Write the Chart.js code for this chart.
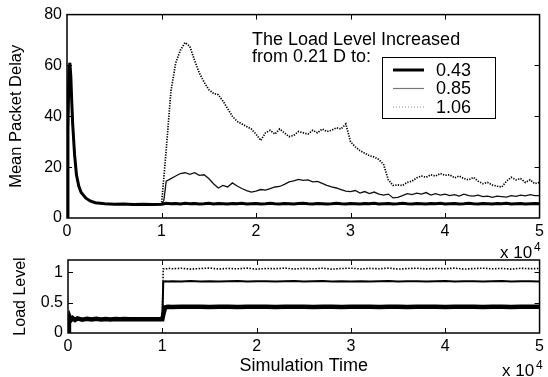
<!DOCTYPE html>
<html>
<head>
<meta charset="utf-8">
<script src="https://cdn.jsdelivr.net/npm/chart.js@4.4.0/dist/chart.umd.min.js"></script>
<style>
  html, body { margin: 0; padding: 0; background: #fff; }
  #wrap { position: relative; width: 548px; height: 377px; }
  #wrap canvas { position: absolute; left: 0; top: 0; }
</style>
</head>
<body>
<div id="wrap">
  <canvas id="delayChart" width="548" height="377"></canvas>
  <canvas id="loadChart" width="548" height="377"></canvas>
</div>
<script>
// ---- top panel: mean packet delay ----
// warm-up phase (load 0.21 D), same for all three runs
const warmupTime = [0, 100, 200, 300, 400, 500, 600, 800, 1000, 1250, 1500, 2000, 2500, 3000, 3500, 4000, 5000, 6000, 7000, 8000, 9000, 10000];
const warmupDelay = [0, 34, 58, 61, 56, 46, 37, 25, 17, 12.5, 10, 7.8, 6.6, 6.0, 5.8, 5.6, 5.4, 5.5, 5.3, 5.4, 5.3, 5.4];

// after the load step at t = 1e4
const stepTime = [
  10250,
  10500, 11000, 11500, 12000, 12500, 13000, 13500, 14000, 14500, 15000,
  15500, 16000, 16500, 17000, 17500, 18000, 18500, 19000, 19500, 20000,
  20500, 21000, 21500, 22000, 22500, 23000, 23500, 24000, 24500, 25000,
  25500, 26000, 26500, 27000, 27500, 28000, 28500, 29000, 29500, 30000,
  30500, 31000, 31500, 32000, 32500, 33000, 33500, 34000, 34500, 35000,
  35500, 36000, 36500, 37000, 37500, 38000, 38500, 39000, 39500, 40000,
  40500, 41000, 41500, 42000, 42500, 43000, 43500, 44000, 44500, 45000,
  45500, 46000, 46500, 47000, 47500, 48000, 48500, 49000, 49500, 50000
];
const delay043 = [
  5.6,
  5.8, 5.6, 5.7, 5.5, 5.8, 5.6, 5.7, 5.5, 5.6, 5.8,
  5.5, 5.7, 5.6, 5.5, 5.7, 5.6, 5.8, 5.5, 5.6, 5.7,
  5.5, 5.6, 5.8, 5.6, 5.5, 5.7, 5.6, 5.5, 5.7, 5.8,
  5.6, 5.5, 5.7, 5.6, 5.5, 5.6, 5.8, 5.6, 5.5, 5.7,
  5.6, 5.5, 5.7, 5.6, 5.8, 5.5, 5.6, 5.7, 5.5, 5.6,
  5.8, 5.6, 5.5, 5.7, 5.6, 5.5, 5.7, 5.6, 5.8, 5.5,
  5.6, 5.7, 5.5, 5.6, 5.8, 5.6, 5.5, 5.7, 5.6, 5.5,
  5.7, 5.6, 5.8, 5.5, 5.6, 5.7, 5.5, 5.6, 5.7, 5.6
];
const delay085 = [
  7,
  14.5, 15.5, 16.5, 17.5, 17.8, 17.2, 17.8, 16.8, 17, 15.5,
  13.5, 11.8, 12.8, 12.2, 13.8, 12.6, 11.6, 10.8, 10.2, 10.6,
  11.2, 11, 11.6, 12.2, 12.4, 13.2, 14.2, 14.6, 15.2, 14.8,
  15, 14.2, 14.4, 13.6, 12.8, 12.2, 11.8, 11.2, 10.6, 10.4,
  10.8, 9.8, 10.4, 9.6, 10.2, 9.4, 9, 9.4, 7.9, 8.1,
  8.8, 9.6, 9.2, 9.8, 9.4, 10, 9, 9.6, 9, 9.4,
  8.8, 9.2, 8.6, 9.4, 8.8, 8.6, 9, 8.4, 8.6, 8.1,
  8.6, 8.4, 8.2, 8.8, 8.5, 9, 8.7, 9.2, 8.8, 8.8
];
const delay106 = [
  16,
  27, 50, 61, 66, 69, 67.5, 62, 57, 53.5, 50.5,
  49, 48.5, 46, 43, 40, 38, 37, 36, 35, 33,
  30.5, 33.5, 34.5, 33, 35, 33.5, 32, 32.5, 34, 33.5,
  33, 34.5, 33.5, 35, 34, 34.5, 35.5, 35, 37, 30,
  28, 26.5, 25.5, 24.5, 24, 23, 21, 15, 12.8, 13,
  12.8, 14, 14.5, 15.8, 16.5, 16, 17, 16.5, 17.5, 16.8,
  17, 15.8, 16.5, 15.5, 15, 16, 14.5, 13.5, 14, 13,
  12.5, 12.2, 14.5, 16, 15, 15.5, 14, 15, 13.5, 14
];

// ---- bottom panel: load level ----
const loadWarmTime = [0, 100, 200, 300, 500, 750, 1000, 1500, 2000, 2500, 3000, 3500, 4000, 4500, 5000, 5500, 6000, 6500, 7000, 7500, 8000, 8500, 9000, 9500, 10000];
const loadWarm = [0, 0.16, 0.25, 0.21, 0.245, 0.215, 0.24, 0.22, 0.235, 0.222, 0.232, 0.224, 0.23, 0.224, 0.23, 0.225, 0.229, 0.225, 0.228, 0.225, 0.228, 0.226, 0.227, 0.226, 0.226];
const loadStepTime = [
  10100, 10300, 10600,
  11000, 12000, 13000, 14000, 15000, 16000, 17000, 18000, 19000, 20000,
  21000, 22000, 23000, 24000, 25000, 26000, 27000, 28000, 29000, 30000,
  31000, 32000, 33000, 34000, 35000, 36000, 37000, 38000, 39000, 40000,
  41000, 42000, 43000, 44000, 45000, 46000, 47000, 48000, 49000, 50000
];
const load043 = [
  0.3, 0.42, 0.43,
  0.428, 0.432, 0.43, 0.433, 0.428, 0.431, 0.43, 0.428, 0.432, 0.43,
  0.433, 0.428, 0.431, 0.43, 0.432, 0.428, 0.43, 0.433, 0.429, 0.431,
  0.43, 0.432, 0.428, 0.431, 0.43, 0.428, 0.432, 0.43, 0.433, 0.428,
  0.431, 0.43, 0.432, 0.428, 0.43, 0.433, 0.429, 0.431, 0.43, 0.43
];
const load085 = [
  0.84, 0.85, 0.845,
  0.85, 0.845, 0.855, 0.848, 0.852, 0.845, 0.85, 0.855, 0.846, 0.85,
  0.852, 0.845, 0.85, 0.855, 0.847, 0.85, 0.853, 0.845, 0.85, 0.848,
  0.852, 0.846, 0.85, 0.855, 0.847, 0.85, 0.852, 0.845, 0.85, 0.854,
  0.847, 0.85, 0.852, 0.845, 0.85, 0.853, 0.847, 0.85, 0.852, 0.848
];
const load106 = [
  1.055, 1.05, 1.065,
  1.055, 1.065, 1.05, 1.06, 1.068, 1.052, 1.062, 1.055, 1.066, 1.05,
  1.06, 1.057, 1.067, 1.052, 1.062, 1.055, 1.065, 1.05, 1.06, 1.066,
  1.053, 1.062, 1.056, 1.067, 1.05, 1.06, 1.064, 1.054, 1.062, 1.057,
  1.066, 1.051, 1.06, 1.065, 1.055, 1.062, 1.05, 1.064, 1.057, 1.06
];

const levelLabels = ['0.43', '0.85', '1.06'];
const xTickValues = [10000, 20000, 30000, 40000];

const FONT = "'Liberation Sans', Arial, Helvetica, sans-serif";
Chart.defaults.font.family = FONT;
Chart.defaults.color = '#000';

const toPoints = (times, values) => times.map((t, i) => ({ x: t, y: values[i] }));

// dataset styles: thick solid, thin solid, dotted
const lineStyles = [
  { borderColor: '#000', borderWidth: 3, borderDash: [] },
  { borderColor: '#111', borderWidth: 1.3, borderDash: [] },
  { borderColor: '#000', borderWidth: 1.7, borderDash: [1.3, 1.3] }
];

// box around plot area + inward tick marks (matlab style)
const boxTicks = {
  id: 'boxTicks',
  afterDatasetsDraw(chart, args, opts) {
    const { ctx, chartArea: a, scales } = chart;
    const x = scales.x, y = scales.y;
    ctx.save();
    ctx.strokeStyle = '#000';
    ctx.lineWidth = 1;
    ctx.beginPath();
    opts.xTicks.forEach(v => {
      const px = Math.round(x.getPixelForValue(v)) + 0.5;
      ctx.moveTo(px, a.top); ctx.lineTo(px, a.top + 5);
      ctx.moveTo(px, a.bottom); ctx.lineTo(px, a.bottom - 5);
    });
    opts.yTicks.forEach(v => {
      const py = Math.round(y.getPixelForValue(v)) + 0.5;
      ctx.moveTo(a.left, py); ctx.lineTo(a.left + 5, py);
      ctx.moveTo(a.right, py); ctx.lineTo(a.right - 5, py);
    });
    ctx.stroke();
    ctx.lineWidth = 1.5;
    ctx.strokeRect(a.left, a.top, a.right - a.left, a.bottom - a.top);

    // "x 10^4" exponent label
    const e = opts.exponent;
    ctx.fillStyle = '#000';
    ctx.textBaseline = 'alphabetic';
    ctx.textAlign = 'left';
    ctx.font = '17px ' + FONT;
    ctx.fillText('x 10', e.x, e.y);
    ctx.font = '12px ' + FONT;
    ctx.fillText('4', e.x + 34, e.y - 7);
    ctx.restore();
  }
};

// text note + boxed legend inside the top panel
const noteLegend = {
  id: 'noteLegend',
  afterDraw(chart) {
    const { ctx } = chart;
    ctx.save();
    ctx.fillStyle = '#000';
    ctx.textAlign = 'left';
    ctx.textBaseline = 'alphabetic';
    ctx.font = '18px ' + FONT;
    ctx.fillText('The Load Level Increased', 252, 45);
    ctx.fillText('from 0.21 D to:', 252, 62);

    ctx.fillStyle = '#fff';
    ctx.fillRect(382.5, 57.5, 113, 61);
    ctx.strokeStyle = '#000';
    ctx.lineWidth = 1;
    ctx.strokeRect(382.5, 57.5, 113, 61);

    const rows = [70, 88.5, 107];
    chart.data.datasets.forEach((ds, i) => {
      ctx.beginPath();
      ctx.strokeStyle = i === 1 ? '#777' : (i === 2 ? '#888' : '#000');
      ctx.lineWidth = i === 0 ? 3 : 1.2;
      ctx.setLineDash(i === 2 ? [1, 2] : []);
      ctx.moveTo(393, rows[i]);
      ctx.lineTo(424, rows[i]);
      ctx.stroke();
      ctx.setLineDash([]);
      ctx.fillStyle = '#000';
      ctx.textBaseline = 'middle';
      ctx.font = '18px ' + FONT;
      ctx.fillText(ds.label, 436, rows[i] + 1);
    });
    ctx.restore();
  }
};

const baseOptions = () => ({
  responsive: false,
  animation: false,
  events: [],
  elements: { point: { radius: 0 }, line: { tension: 0 } },
  plugins: { legend: { display: false }, tooltip: { enabled: false } }
});

// top chart
const delayOptions = baseOptions();
delayOptions.layout = { padding: { left: 0, right: 6, top: 14, bottom: 129 } };
delayOptions.plugins.boxTicks = { xTicks: xTickValues, yTicks: [20, 40, 60], exponent: { x: 500, y: 258 } };
delayOptions.scales = {
  x: {
    type: 'linear', min: 0, max: 50000,
    grid: { display: false, drawTicks: false }, border: { display: false },
    ticks: { stepSize: 10000, maxRotation: 0, padding: 4, font: { size: 16 }, callback: v => v / 10000 },
    afterFit: s => { s.height = 30; }
  },
  y: {
    min: 0, max: 80,
    grid: { display: false, drawTicks: false }, border: { display: false },
    ticks: { stepSize: 20, padding: 5, font: { size: 16 } },
    title: { display: true, text: 'Mean Packet Delay', font: { size: 16.5 }, padding: { top: 7, bottom: 0 } },
    afterFit: s => { s.width = 67; }
  }
};

const delayData = [delay043, delay085, delay106];
new Chart(document.getElementById('delayChart'), {
  type: 'line',
  data: {
    datasets: delayData.map((vals, i) => Object.assign({
      label: levelLabels[i],
      data: toPoints(warmupTime.concat(stepTime), warmupDelay.concat(vals)),
      fill: false
    }, lineStyles[i]))
  },
  options: delayOptions,
  plugins: [boxTicks, noteLegend]
});

// bottom chart
const loadOptions = baseOptions();
loadOptions.layout = { padding: { left: 0, right: 4, top: 260, bottom: 0 } };
loadOptions.plugins.boxTicks = { xTicks: xTickValues, yTicks: [0.5, 1], exponent: { x: 502, y: 376 } };
loadOptions.scales = {
  x: {
    type: 'linear', min: 0, max: 50000,
    grid: { display: false, drawTicks: false }, border: { display: false },
    ticks: { stepSize: 10000, maxRotation: 0, padding: 4, font: { size: 16 }, callback: v => v / 10000 },
    title: { display: true, text: 'Simulation Time', font: { size: 18 }, padding: { top: 0, bottom: 0 } },
    afterFit: s => { s.height = 44; }
  },
  y: {
    min: 0, max: 1.2,
    grid: { display: false, drawTicks: false }, border: { display: false },
    ticks: { stepSize: 0.5, includeBounds: false, padding: 5, font: { size: 16 }, callback: v => String(v) },
    title: { display: true, text: 'Load Level', font: { size: 16 }, padding: { top: 11, bottom: 0 } },
    afterFit: s => { s.width = 68; }
  }
};

const loadStyles = [
  { borderColor: '#000', borderWidth: 4.5, borderDash: [] },
  { borderColor: '#000', borderWidth: 2, borderDash: [] },
  { borderColor: '#000', borderWidth: 1.6, borderDash: [1.5, 1.5] }
];
const loadData = [load043, load085, load106];
new Chart(document.getElementById('loadChart'), {
  type: 'line',
  data: {
    datasets: loadData.map((vals, i) => Object.assign({
      label: levelLabels[i],
      data: toPoints(loadWarmTime.concat(loadStepTime), loadWarm.concat(vals)),
      fill: false
    }, loadStyles[i]))
  },
  options: loadOptions,
  plugins: [boxTicks]
});
</script>
</body>
</html>
